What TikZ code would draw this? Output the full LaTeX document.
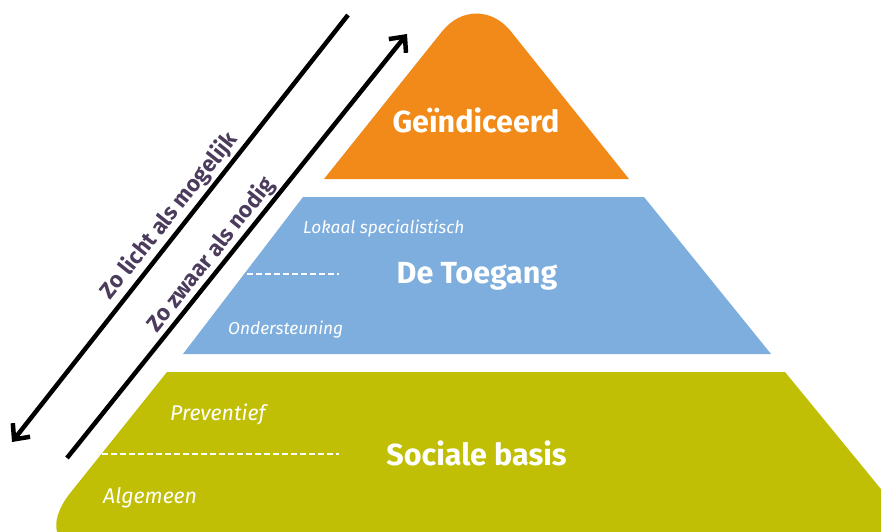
\documentclass[tikz,border=0pt]{standalone}
\usepackage{fontspec}
\setmainfont{Fira Sans}
\usetikzlibrary{arrows.meta,positioning}

\definecolor{topcol}{HTML}{F18A18}
\definecolor{midcol}{HTML}{7EAEDD}
\definecolor{basecol}{HTML}{C0BF05}
\definecolor{mottocol}{HTML}{4B3B5C}

\begin{document}
\begin{tikzpicture}[
	x = 1pt, y = -1pt, % pixel grid, y pointing down
	> = {Straight Barb[length=12pt, width=22pt]}, % arrow head style
	layer/.style={font=\bfseries\fontsize{30.5}{30.5}\selectfont, text=white, anchor=base, inner sep=0pt},
	sub/.style={font=\itshape\fontsize{17.3}{17.3}\selectfont, text=white, anchor=base west, inner sep=0pt},
	subbig/.style={sub, font=\itshape\fontsize{21.3}{21.3}\selectfont},
	motto/.style={font=\bfseries\fontsize{22.5}{22.5}\selectfont, text=mottocol, rotate=51.5, inner sep=0pt},
	arrowline/.style={line width=4.5pt, black},
	divider/.style={white, line width=1.4pt, dash pattern=on 6pt off 3pt},
	]

	\useasboundingbox (0,0) rectangle (881,532);
	\clip (0,0) rectangle (881,532);

	% Layers of the pyramid
	\fill[topcol] (324,179) [rounded corners=55pt] -- (476.5,-11.6) [sharp corners] -- (629,179) -- cycle;
	\fill[midcol] (303,197) -- (644,197) -- (771,354) -- (183,354) -- cycle;
	\fill[basecol] (785,372) -- (167,372) [rounded corners=80pt] -- (20.6,555) [sharp corners] -- (935,555) -- cycle;

	% Layer names
	\node[layer] (top)  at (476,133)   {Geïndiceerd};
	\node[layer] (mid)  at (477,283)   {De Toegang};
	\node[layer] (base) at (476.5,465) {Sociale basis};

	% Sub levels
	\node[sub]    (lokaal) at (303,233) {Lokaal specialistisch};
	\node[sub]    (onder)  at (228,334) {Ondersteuning};
	\node[subbig] (prev)   at (170,420) {Preventief};
	\node[subbig] (alg)    at (103,503) {Algemeen};

	% Dashed dividers
	\coordinate (d1a) at (247,274);
	\coordinate (d1b) at (339,274);
	\coordinate (d2a) at (102,454);
	\coordinate (d2b) at (339,454);
	\draw[divider] (d1a) -- (d1b);
	\draw[divider] (d2a) -- (d2b);

	% Arrows along the side
	\coordinate (lichtstart) at (348,15);
	\coordinate (lichtend)   at (12,442);
	\coordinate (zwaarstart) at (67,458);
	\coordinate (zwaarend)   at (407,34);
	\draw[arrowline, ->] (lichtstart) -- (lichtend);
	\draw[arrowline, ->] (zwaarstart) -- (zwaarend);

	\node[motto] (licht) at (169,216) {Zo licht als mogelijk};
	\node[motto] (zwaar) at (211,255) {Zo zwaar als nodig};

\end{tikzpicture}
\end{document}
